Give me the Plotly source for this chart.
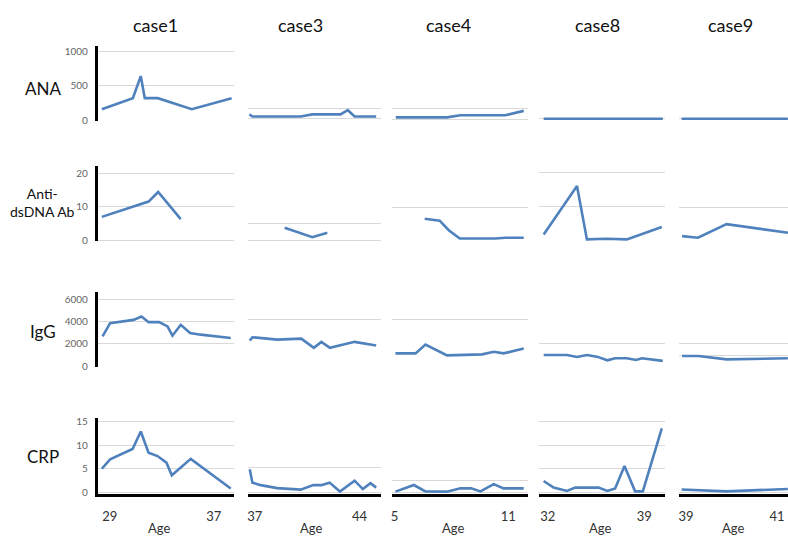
import plotly.graph_objects as go

W, H = 788, 537

# ---------------- data (ages in years, values per marker) ----------------
cases = ["case1", "case3", "case4", "case8", "case9"]
row_labels = ["ANA", "Anti-<br>dsDNA Ab", "IgG", "CRP"]
age_ticks = [[29, 37], [37, 44], [5, 11], [32, 39], [39, 41]]

# case1
case1_ana_age = [28.38, 30.77, 31.38, 31.69, 32.69, 35.31, 38.38]
case1_ana = [160, 320, 640, 320, 320, 160, 320]
case1_ds_age = [28.38, 31.98, 32.72, 34.46]
case1_ds = [7.0, 11.6, 14.5, 6.3]
case1_igg_age = [28.44, 29.02, 30.82, 31.44, 31.98, 32.79, 33.44, 33.82, 34.46, 35.18, 36.0, 38.31]
case1_igg = [2680, 3855, 4150, 4450, 3945, 3945, 3565, 2735, 3710, 2975, 2825, 2530]
case1_crp_age = [28.38, 29.02, 30.75, 31.38, 31.98, 32.67, 33.36, 33.77, 35.23, 38.31]
case1_crp = [5.0, 7.0, 9.2, 12.9, 8.4, 7.7, 6.3, 3.6, 7.1, 0.8]

# case3
case3_ana_age = [36.65, 36.85, 40.07, 40.85, 42.73, 43.22, 43.67, 45.11]
case3_ana = [80, 40, 40, 80, 80, 160, 40, 40]
case3_ds_age = [39.0, 40.85, 41.85]
case3_ds = [3.8, 0.9, 2.3]
case3_igg_age = [36.67, 36.85, 38.51, 40.11, 40.95, 41.45, 42.02, 43.67, 45.11]
case3_igg = [2225, 2510, 2310, 2390, 1605, 2115, 1605, 2115, 1800]
case3_crp_age = [36.67, 36.85, 37.4, 38.51, 40.07, 40.91, 41.45, 42.0, 42.69, 43.67, 44.22, 44.73, 45.11]
case3_crp = [4.7, 2.0, 1.5, 0.9, 0.6, 1.5, 1.5, 2.0, 0.2, 2.4, 0.7, 1.9, 1.0]

# case4
case4_ana_age = [5.07, 7.77, 8.47, 10.84, 11.81]
case4_ana = [40, 40, 80, 80, 160]
case4_ds_age = [6.59, 7.38, 7.86, 8.44, 10.32, 10.84, 11.81]
case4_ds = [6.6, 6.0, 3.1, 0.6, 0.6, 0.8, 0.8]
case4_igg_age = [5.05, 6.11, 6.63, 7.77, 9.62, 10.23, 10.75, 11.81]
case4_igg = [1145, 1145, 1900, 975, 1060, 1285, 1145, 1565]
case4_crp_age = [5.05, 6.02, 6.63, 7.77, 8.47, 9.04, 9.53, 10.23, 10.75, 11.81]
case4_crp = [0.4, 3.2, 0.5, 0.4, 1.8, 1.8, 0.5, 3.6, 1.8, 1.8]

# case8
case8_ana_age = [31.7, 34.12, 36.33, 38.41, 40.35]
case8_ana = [0, 0, 0, 0, 0]
case8_ds_age = [31.7, 34.12, 34.84, 36.24, 37.74, 40.28]
case8_ds = [1.7, 15.9, 0.3, 0.5, 0.3, 3.9]
case8_igg_age = [31.7, 33.39, 34.12, 34.84, 35.57, 36.33, 36.89, 37.74, 38.41, 38.83, 40.35]
case8_igg = [1030, 1030, 860, 1030, 885, 565, 740, 740, 600, 740, 515]
case8_crp_age = [31.7, 32.42, 33.39, 33.99, 35.68, 36.33, 36.89, 37.57, 38.34, 38.9, 40.28]
case8_crp = [2.4, 1.0, 0.3, 1.0, 1.0, 0.3, 0.8, 5.6, 0.2, 0.2, 13.6]

# case9
case9_ana_age = [38.9, 39.9, 41.24]
case9_ana = [0, 0, 0]
case9_ds_age = [38.91, 39.26, 39.89, 41.24]
case9_ds = [1.3, 0.8, 4.9, 2.3]
case9_igg_age = [38.91, 39.27, 39.89, 41.24]
case9_igg = [945, 945, 650, 740]
case9_crp_age = [38.9, 39.89, 41.24]
case9_crp = [0.6, 0.2, 0.7]

series = [
    [(case1_ana_age, case1_ana), (case3_ana_age, case3_ana), (case4_ana_age, case4_ana),
     (case8_ana_age, case8_ana), (case9_ana_age, case9_ana)],
    [(case1_ds_age, case1_ds), (case3_ds_age, case3_ds), (case4_ds_age, case4_ds),
     (case8_ds_age, case8_ds), (case9_ds_age, case9_ds)],
    [(case1_igg_age, case1_igg), (case3_igg_age, case3_igg), (case4_igg_age, case4_igg),
     (case8_igg_age, case8_igg), (case9_igg_age, case9_igg)],
    [(case1_crp_age, case1_crp), (case3_crp_age, case3_crp), (case4_crp_age, case4_crp),
     (case8_crp_age, case8_crp), (case9_crp_age, case9_crp)],
]

# ---------------- geometry (pixels) ----------------
col_x = [(97, 233), (247, 380), (391, 528), (539, 665), (679, 788)]
tick_px = [(109, 213), (254, 359), (394, 508), (547.5, 644), (686, 777)]
# per panel: top_px, bottom_px, zero_px, px_per_unit, dtick
ygeo = [
    [(44, 120, 119, 0.07, 500), (104, 119, 117.3, 0.053, 200), (104, 120, 118.3, 0.055, 200),
     (104, 119, 117.5, 0.053, 1000), (104, 119, 117.5, 0.053, 1000)],
    [(165, 242, 240.7, 3.37, 10), (215, 242, 240.7, 3.28, 5), (195, 242, 241, 3.33, 10),
     (168, 242, 241, 3.47, 10), (195, 242, 241, 3.37, 10)],
    [(293, 369.5, 368.7, 0.011333, 2000), (300, 370, 369, 0.011825, 4000), (300, 370, 369.3, 0.0119, 4000),
     (330, 370, 369.3, 0.01165, 2000), (340, 370, 369.3, 0.01165, 1000)],
    [(421.7, 498.5, 496.7, 4.78, 5), (455, 498.5, 497, 5.06, 5), (478, 498.5, 497, 2.4, 5),
     (421, 498.5, 496.7, 4.78, 5), (485, 498.5, 496.7, 4.78, 5)],
]

LINE = "#4F81BD"
GRID = "#d9d9d9"
FONT = "Lato"

fig = go.Figure()
layout = dict(
    width=W, height=H, margin=dict(l=0, r=0, t=0, b=0), autosize=False,
    paper_bgcolor="white", plot_bgcolor="white", showlegend=False,
    font=dict(family=FONT, color="#222"),
)

for r in range(4):
    for c in range(5):
        k = r * 5 + c + 1
        xs = "" if k == 1 else str(k)
        ages, vals = series[r][c]
        fig.add_trace(go.Scatter(x=ages, y=vals, mode="lines",
                                 line=dict(color=LINE, width=2.6),
                                 xaxis="x" + xs, yaxis="y" + xs, hoverinfo="skip"))
        (t0, t1), (a0, a1) = tick_px[c], age_ticks[c]
        ppy = (t1 - t0) / (a1 - a0)
        x0p, x1p = col_x[c]
        xr = [a0 + (x0p - t0) / ppy, a0 + (x1p - t0) / ppy]
        last = (r == 3)
        layout["xaxis" + xs] = dict(
            domain=[x0p / W, x1p / W], range=xr, anchor="y" + xs,
            showgrid=False, zeroline=False,
            showline=last, linecolor="black", linewidth=3,
            showticklabels=last, tickvals=age_ticks[c], ticks="",
            tickfont=dict(size=13, color="#333", family=FONT),
            ticklabelstandoff=8,
        )
        top, bot, zero, s, dt = ygeo[r][c]
        yr = [(zero - bot) / s, (zero - top) / s]
        first = (c == 0)
        layout["yaxis" + xs] = dict(
            domain=[1 - bot / H, 1 - top / H], range=yr, anchor="x" + xs,
            showgrid=True, gridcolor=GRID, gridwidth=1, zeroline=False,
            dtick=dt, tick0=0,
            showline=first, linecolor="black", linewidth=3,
            showticklabels=first, ticks="",
            tickfont=dict(size=10, color="#666", family=FONT),
            ticklabelstandoff=5,
        )

ann = []
col_title_x = [155, 300, 448, 597, 730]
for name, xp in zip(cases, col_title_x):
    ann.append(dict(text=name, x=xp / W, y=1 - 22 / H, xref="paper", yref="paper",
                    showarrow=False, xanchor="center", yanchor="middle",
                    font=dict(size=18, color="#111", family=FONT)))
row_y = [87, 203, 333, 460]
row_size = [17, 14, 17, 17]
for lab, yp, fs in zip(row_labels, row_y, row_size):
    ann.append(dict(text=lab, x=42 / W, y=1 - yp / H, xref="paper", yref="paper",
                    showarrow=False, xanchor="center", yanchor="middle",
                    font=dict(size=fs, color="#111", family=FONT)))
age_x = [158, 310, 453, 600, 733]
for xp in age_x:
    ann.append(dict(text="Age", x=xp / W, y=1 - 533 / H, xref="paper", yref="paper",
                    showarrow=False, xanchor="center", yanchor="middle",
                    font=dict(size=13, color="#333", family=FONT)))
layout["annotations"] = ann

fig.update_layout(**layout)

fix_page = (
    "var de=document.documentElement, b=document.body;"
    "[de,b].forEach(function(e){e.style.margin='0';e.style.padding='0';"
    "e.style.overflow='hidden';e.style.height='537px';});"
    "var gd=document.getElementById('{plot_id}');"
    "gd.style.display='block';"
    "var p=gd.parentElement;p.style.height='537px';p.style.overflow='hidden';"
    "p.style.lineHeight='0';"
)
fig.write_html("out.html", config={"displayModeBar": False}, post_script=fix_page)
